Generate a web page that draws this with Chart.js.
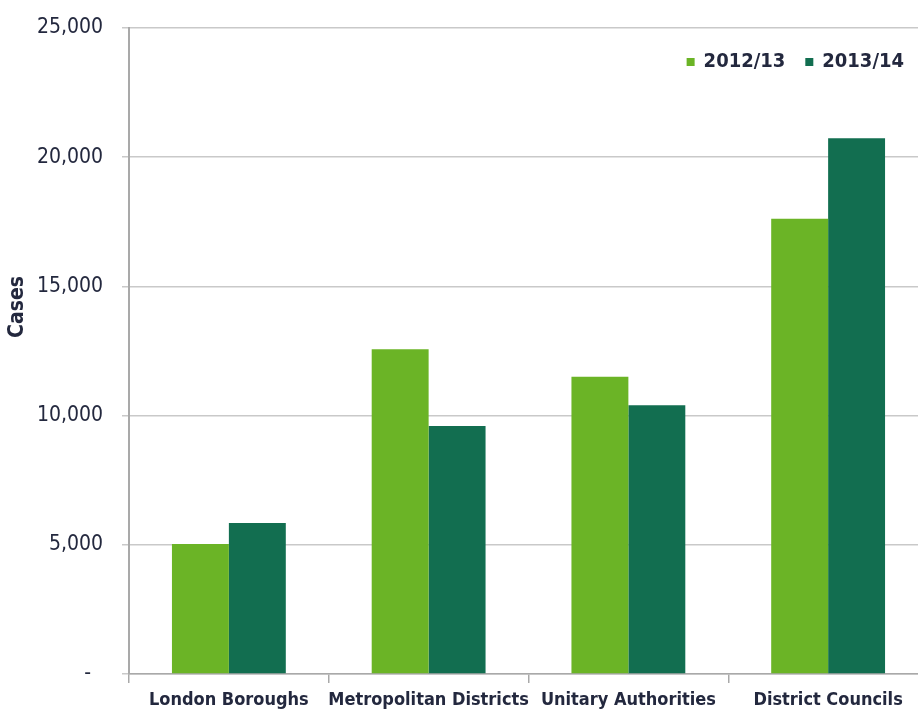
<!DOCTYPE html>
<html>
<head>
<meta charset="utf-8">
<title>Cases by authority type</title>
<script src="https://cdn.jsdelivr.net/npm/chart.js@4/dist/chart.umd.min.js"></script>
<style>
  html, body { margin: 0; padding: 0; background: #fff; overflow: hidden; }
  canvas { display: block; }
</style>
</head>
<body>
<canvas id="casesChart" width="930" height="709"></canvas>
<script>
// Authority types along the x axis
const categories = [
  'London Boroughs',
  'Metropolitan Districts',
  'Unitary Authorities',
  'District Councils',
];

// Cases per year
const cases1213 = [5030, 12570, 11500, 17620];
const cases1314 = [5840, 9600, 10400, 20730];

const seriesLabels = ['2012/13', '2013/14'];
const seriesColors = ['#6bb426', '#126e50'];

const textColor = '#23283e';
const gridColor = '#c9c9c9';
const axisColor = '#a9a9a9';

// Left hand axis title, sits a little above the middle of the axis
const axisTitle = {
  id: 'axisTitle',
  afterDraw(chart) {
    const { ctx } = chart;
    ctx.save();
    ctx.translate(18, 307);
    ctx.rotate(-Math.PI / 2);
    ctx.font = 'bold 21px "DejaVu Sans Condensed", "DejaVu Sans", sans-serif';
    ctx.fillStyle = textColor;
    ctx.textAlign = 'center';
    ctx.textBaseline = 'middle';
    ctx.fillText('Cases', 0, 0);
    ctx.restore();
  },
};

// Legend drawn inside the plot, top right corner
const innerLegend = {
  id: 'innerLegend',
  afterDraw(chart) {
    const { ctx, chartArea } = chart;
    const box = 8;
    const gap = 9;
    const itemGap = 20;
    const y = chartArea.top + 34;
    ctx.save();
    ctx.font = 'bold 20px "DejaVu Sans Condensed", "DejaVu Sans", sans-serif';
    ctx.textBaseline = 'middle';
    const items = chart.data.datasets.map((ds) => ({
      label: ds.label,
      color: ds.backgroundColor,
      width: ctx.measureText(ds.label).width,
    }));
    let x = chartArea.right - 24;
    for (let i = items.length - 1; i >= 0; i -= 1) {
      const item = items[i];
      x -= item.width;
      ctx.fillStyle = textColor;
      ctx.fillText(item.label, x, y);
      x -= gap + box;
      ctx.fillStyle = item.color;
      ctx.fillRect(x, y - box / 2, box, box);
      x -= itemGap;
    }
    ctx.restore();
  },
};

const renderChart = () => {
  const canvas = document.getElementById('casesChart');

  // eslint-disable-next-line no-undef
  new Chart(canvas, {
    type: 'bar',
    data: {
      labels: categories,
      datasets: [
        {
          label: seriesLabels[0],
          data: cases1213,
          backgroundColor: seriesColors[0],
        },
        {
          label: seriesLabels[1],
          data: cases1314,
          backgroundColor: seriesColors[1],
        },
      ],
    },
    plugins: [axisTitle, innerLegend],
    options: {
      responsive: false,
      animation: false,
      devicePixelRatio: 1,
      layout: {
        padding: { top: 28, right: 2, left: 0, bottom: 0 },
      },
      datasets: {
        bar: {
          categoryPercentage: 0.57,
          barPercentage: 1,
        },
      },
      plugins: {
        legend: { display: false },
        tooltip: { enabled: false },
      },
      scales: {
        x: {
          grid: {
            display: true,
            drawOnChartArea: false,
            offset: true,
            tickLength: 9,
            color: axisColor,
            lineWidth: 1.5,
          },
          border: { color: axisColor, width: 1.5 },
          ticks: {
            color: textColor,
            padding: 7,
            maxRotation: 0,
            autoSkip: false,
            font: { family: '"DejaVu Sans Condensed", "DejaVu Sans", sans-serif', size: 18, weight: 'bold' },
          },
          afterFit: (scale) => { scale.height = 35; },
        },
        y: {
          min: 0,
          max: 25000,
          grid: {
            color: gridColor,
            lineWidth: 1.5,
            tickLength: 7,
          },
          border: { color: axisColor, width: 2 },
          ticks: {
            stepSize: 5000,
            color: textColor,
            padding: 19,
            font: { family: '"DejaVu Sans Condensed", "DejaVu Sans", sans-serif', size: 21 },
            callback: (value) => (value === 0 ? '-  ' : value.toLocaleString('en-US')),
          },
          // fixed axis width; label overhang only needs half a line at each end
          afterFit: (scale) => {
            scale.width = 129;
            scale.paddingTop = 13;
            scale.paddingBottom = 13;
          },
        },
      },
    },
  });
};

renderChart();
</script>
</body>
</html>
